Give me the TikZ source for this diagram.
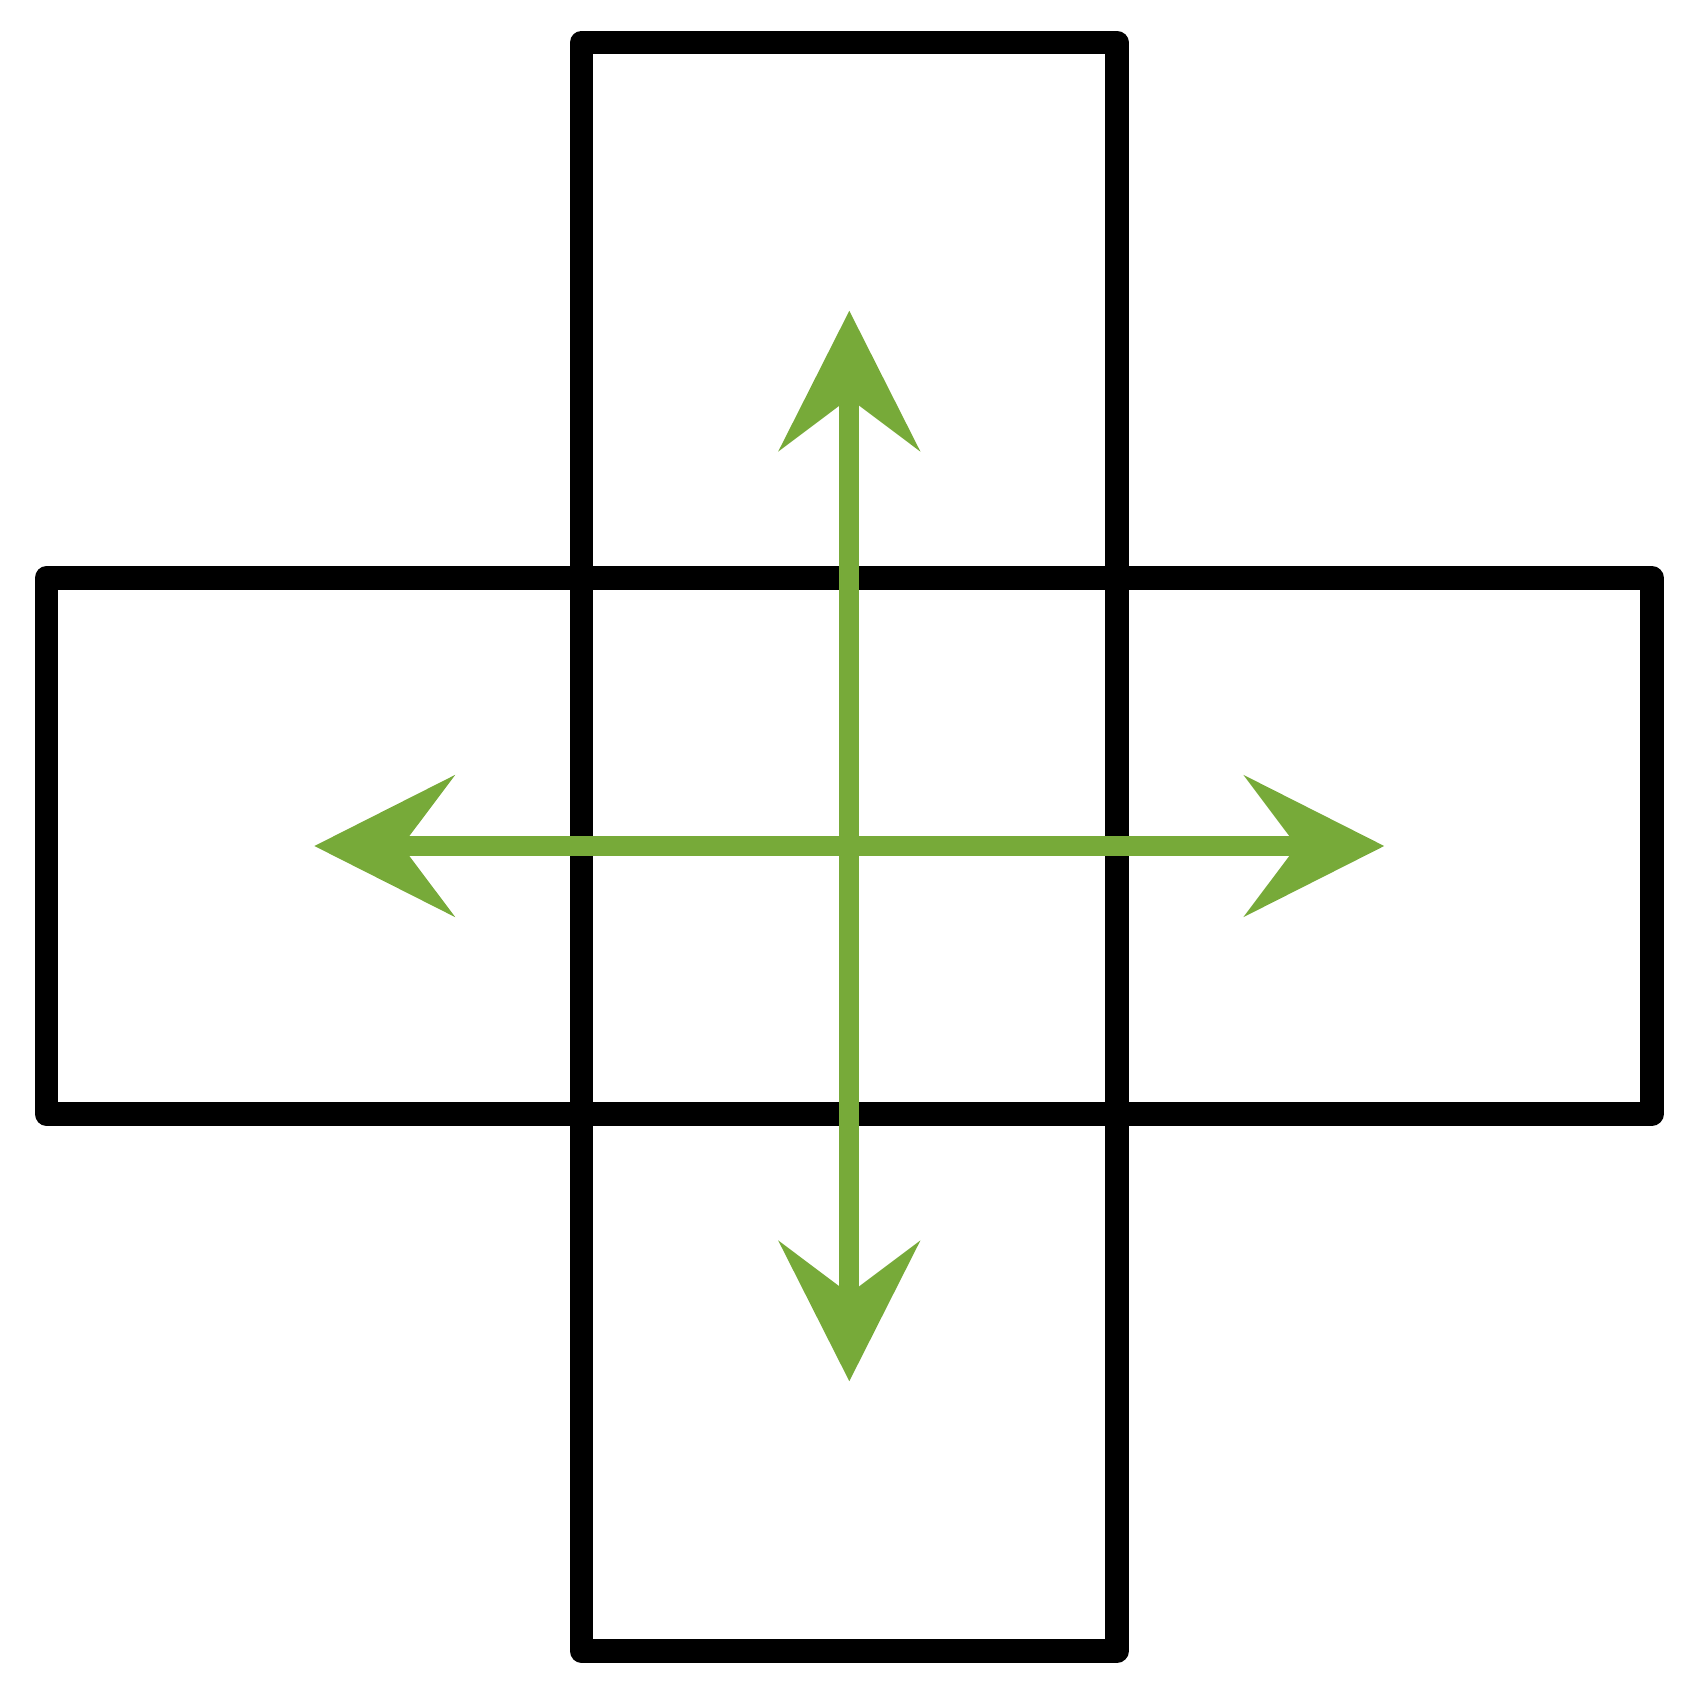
\documentclass[tikz,border=0pt]{standalone}
\usetikzlibrary{arrows.meta}
\definecolor{arrowgreen}{RGB}{119,170,57}
\tikzset{
  panel/.style={draw=black, line width=23.5pt, line join=round, rectangle, inner sep=0pt, fill=none},
  greentip/.style={Stealth[length=139.5pt,width=140pt,inset=52pt]},
  move/.style={draw=arrowgreen, line width=20pt, line join=miter, {Stealth[length=139.5pt,width=140pt,inset=52pt]}-{Stealth[length=139.5pt,width=140pt,inset=52pt]}}
}
\begin{document}
\begin{tikzpicture}[x=1pt,y=-1pt]
\useasboundingbox (0,0) rectangle (1692,1692);
\node[panel, minimum width=1605.7pt, minimum height=535.7pt] (hbar) at (849.2,845.9) {};
\node[panel, minimum width=535.3pt, minimum height=1608.5pt] (vbar) at (849.3,846.8) {};
\coordinate (top) at (849.3,310.7);
\coordinate (bottom) at (849.3,1381.3);
\coordinate (left) at (314.3,846);
\coordinate (right) at (1384.3,846);
\draw[move] (left) -- (right);
\draw[move] (top) -- (bottom);
\end{tikzpicture}
\end{document}
